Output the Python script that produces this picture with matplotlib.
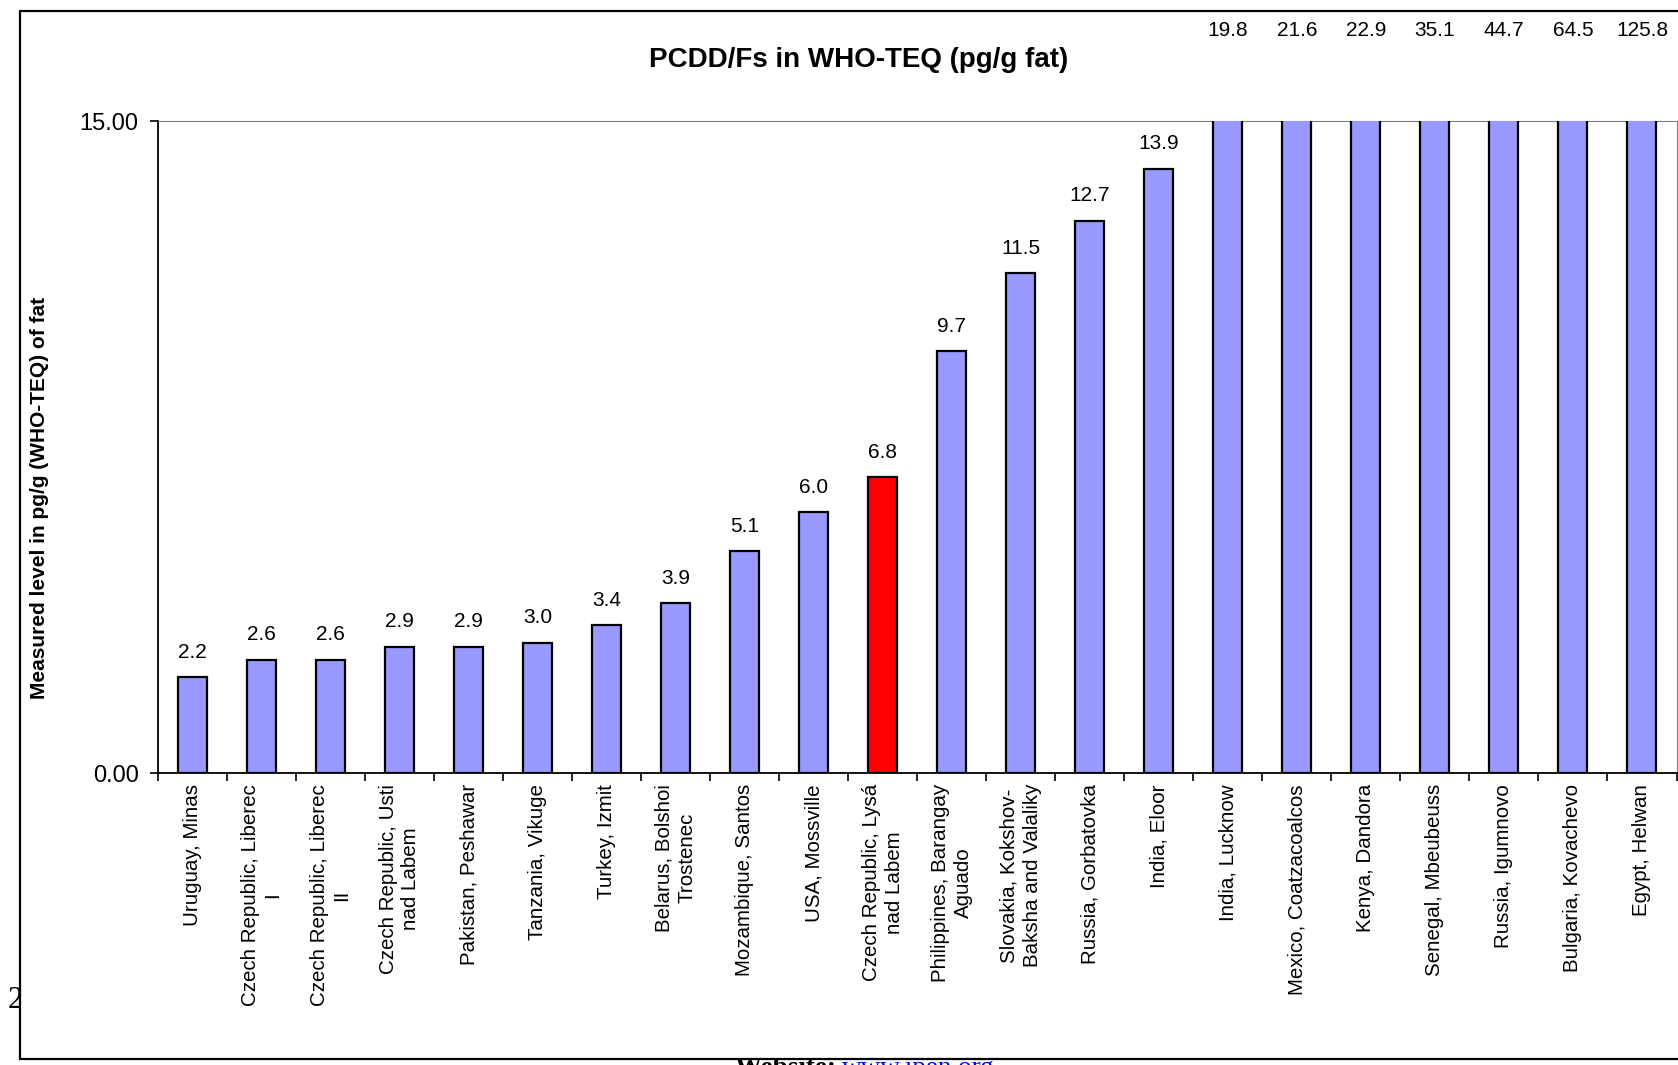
import numpy as np
import matplotlib.pyplot as plt
from matplotlib.patches import Rectangle

plt.rcParams['font.family'] = ['Liberation Sans', 'DejaVu Sans']

sites = ['Uruguay, Minas', 'Czech Republic, Liberec\nI', 'Czech Republic, Liberec\nII',
         'Czech Republic, Usti\nnad Labem', 'Pakistan, Peshawar', 'Tanzania, Vikuge',
         'Turkey, Izmit', 'Belarus, Bolshoi\nTrostenec', 'Mozambique, Santos',
         'USA, Mossville', 'Czech Republic, Lysá\nnad Labem', 'Philippines, Barangay\nAguado',
         'Slovakia, Kokshov-\nBaksha and Valaliky', 'Russia, Gorbatovka', 'India, Eloor',
         'India, Lucknow', 'Mexico, Coatzacoalcos', 'Kenya, Dandora', 'Senegal, Mbeubeuss',
         'Russia, Igumnovo', 'Bulgaria, Kovachevo', 'Egypt, Helwan']
teq = [2.2, 2.6, 2.6, 2.9, 2.9, 3.0, 3.4, 3.9, 5.1, 6.0, 6.8,
       9.7, 11.5, 12.7, 13.9, 19.8, 21.6, 22.9, 35.1, 44.7, 64.5, 125.8]
highlight = 'Czech Republic, Lysá\nnad Labem'
y_max = 15.0

W, H = 1678, 1065
fig = plt.figure(figsize=(W / 100, H / 100), dpi=100)

# page text partly hidden behind the chart area
fig.text(8 / W, 1 - 986 / H, '2', family='Liberation Serif', fontsize=22,
         ha='left', va='top', zorder=2)
fig.text(735 / W, 1 - 1056 / H, 'Website: ', family='Liberation Serif', fontsize=19.5,
         fontweight='bold', ha='left', va='top', zorder=2)
fig.text(842 / W, 1 - 1056 / H, 'www.ipen.org', family='Liberation Serif', fontsize=19.5,
         color='blue', ha='left', va='top', zorder=2)

frame = Rectangle((20 / W, 1 - 1059 / H), 1.1, (1059 - 11) / H, transform=fig.transFigure,
                  facecolor='white', edgecolor='black', linewidth=1.6, zorder=4)
fig.patches.append(frame)

ax = fig.add_axes([158 / W, 1 - 773 / H, (1676.5 - 158) / W, (773 - 121) / H])
ax.set_zorder(5)
ax.patch.set_visible(False)

x = np.arange(len(sites))
colors = ['#ff0000' if s == highlight else '#9999ff' for s in sites]
ax.bar(x, teq, width=0.42, color=colors, edgecolor='black', linewidth=1.6, zorder=3)

ax.set_xlim(-0.5, len(sites) - 0.5)
ax.set_ylim(0, y_max)

for xi, v in zip(x, teq):
    if v <= y_max:
        ax.annotate(f'{v:.1f}', (xi, v), xytext=(0, 18), textcoords='offset points',
                    ha='center', va='center', fontsize=15)
    else:
        ax.text(xi, 1.139, f'{v:.1f}', transform=ax.get_xaxis_transform(),
                ha='center', va='center', fontsize=15, clip_on=False)

ax.set_yticks([0, y_max])
ax.set_yticklabels(['0.00', '15.00'], fontsize=17)
ax.tick_params(axis='y', direction='out', length=6, width=1.2, pad=8)

ax.set_xticks(x)
ax.set_xticklabels(sites, rotation=90, fontsize=14.8, ha='center', va='top',
                   multialignment='center', linespacing=1.25)
ax.set_xticks(np.arange(-0.5, len(sites)), minor=True)
ax.tick_params(axis='x', which='major', length=0, pad=8)
ax.tick_params(axis='x', which='minor', direction='out', length=6, width=1.2)

ax.spines['left'].set_linewidth(1.3)
ax.spines['bottom'].set_linewidth(1.3)
ax.spines['top'].set_color('#808080')
ax.spines['right'].set_color('#808080')

fig.text(859 / W, 1 - 60 / H, 'PCDD/Fs in WHO-TEQ (pg/g fat)', fontsize=20,
         fontweight='bold', ha='center', va='center', zorder=6)
fig.text(40 / W, 1 - 498 / H, 'Measured level in pg/g (WHO-TEQ) of fat', fontsize=15,
         fontweight='bold', rotation=90, ha='center', va='center', zorder=6)

fig.savefig('out.png', dpi=100, facecolor='white')
